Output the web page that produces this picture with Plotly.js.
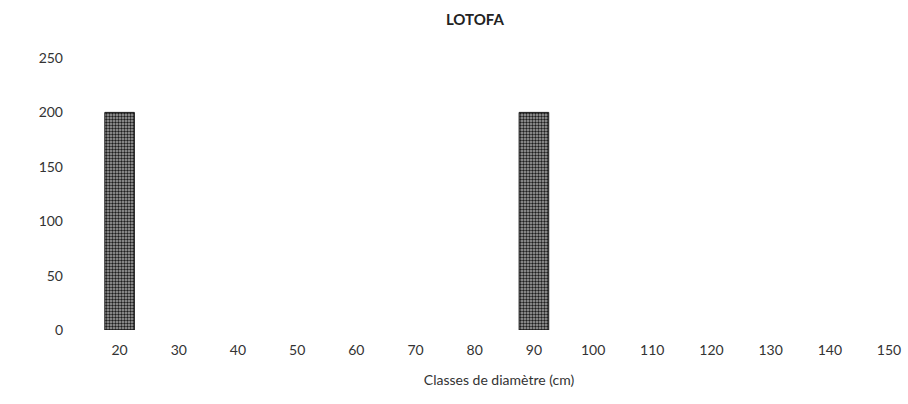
<!DOCTYPE html>
<html>
<head>
<meta charset="utf-8">
<script src="https://cdn.plot.ly/plotly-3.0.1.min.js"></script>
<style>html,body{margin:0;padding:0;background:#fff;}#chart{width:908px;height:404px;}</style>
</head>
<body>
<div id="chart"></div>
<script>
const chartTitle = "LOTOFA";
const xAxisTitle = "Classes de diamètre (cm)";
const diameterClasses = ["20","30","40","50","60","70","80","90","100","110","120","130","140","150"];
const counts = [200, 0, 0, 0, 0, 0, 0, 200, 0, 0, 0, 0, 0, 0];
const yTicks = [0, 50, 100, 150, 200, 250];

const trace = {
  type: "bar",
  x: diameterClasses,
  y: counts,
  marker: {
    color: "#6a6a6a",
    line: {color: "#1a1a1a", width: counts.map(v => v > 0 ? 1 : 0)},
    pattern: {shape: ".", bgcolor: "#a8a8a8", fgcolor: "#1e1e1e", size: 3, solidity: 0.5, fillmode: "replace"}
  },
  hoverinfo: "x+y"
};

const fontFam = "Lato, 'Open Sans', 'DejaVu Sans', sans-serif";
const layout = {
  width: 908, height: 404,
  margin: {l: 90, r: 0, t: 58, b: 74},
  paper_bgcolor: "#fff", plot_bgcolor: "#fff",
  bargap: 0.5,
  showlegend: false,
  font: {family: fontFam, size: 14, color: "#333"},
  title: {text: "<b>" + chartTitle + "</b>", x: 0.523, xanchor: "center", y: 0.95, yanchor: "middle", yref: "container",
          font: {family: fontFam, size: 15, color: "#222"}},
  xaxis: {
    type: "category",
    range: [-0.5, 13.32],
    showgrid: false, zeroline: false, showline: false,
    ticks: "", ticklabelstandoff: 10,
    tickfont: {family: fontFam, size: 14, color: "#333"},
    title: {text: xAxisTitle, standoff: 18, font: {family: fontFam, size: 14, color: "#333"}},
    automargin: false
  },
  yaxis: {
    range: [0, 250],
    tickvals: yTicks,
    showgrid: false, zeroline: false, showline: false,
    ticks: "", ticklabelstandoff: 26,
    tickfont: {family: fontFam, size: 14, color: "#333"},
    automargin: false
  }
};

Plotly.newPlot("chart", [trace], layout, {displayModeBar: false, staticPlot: true});
</script>
</body>
</html>
